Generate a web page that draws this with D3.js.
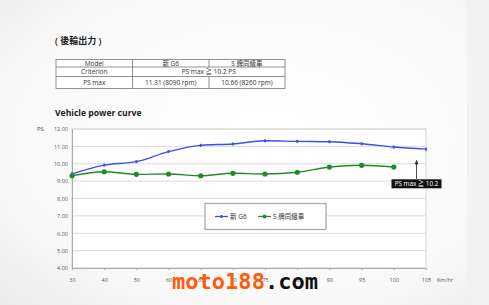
<!DOCTYPE html>
<html>
<head>
<meta charset="utf-8">
<script src="https://cdn.jsdelivr.net/npm/d3@7"></script>
<style>
  html, body { margin: 0; padding: 0; }
  body { width: 489px; height: 305px; overflow: hidden; font-family: "Open Sans", "Noto Sans CJK TC", sans-serif; }
</style>
</head>
<body>
<div id="container"></div>
<script>
// chart data
var speeds = ['30', '40', '50', '60', '65', '70', '75', '80', '90', '95', '100', '105'];
var newG6 = [9.42, 9.92, 10.12, 10.70, 11.06, 11.14, 11.32, 11.29, 11.27, 11.15, 10.96, 10.84];
var rivals = [9.31, 9.54, 9.39, 9.41, 9.31, 9.45, 9.41, 9.51, 9.81, 9.91, 9.81, null];
var yTicks = [4, 5, 6, 7, 8, 9, 10, 11, 12];
var seriesNames = ['新 G6', 'S 牌同級車'];
var tableRows = [
  ['Model', '新 G6', 'S 牌同級車'],
  ['Criterion', 'PS max ≧ 10.2 PS'],
  ['PS max', '11.31  (8090 rpm)', '10.66  (8260 rpm)']
];
var criterion = 10.2;

var width = 489, height = 305;
var blue = '#3a4ff0', green = '#23892a';

var svg = d3.select('#container').append('svg')
  .attr('width', width)
  .attr('height', height);

// background
var defs = svg.append('defs');
var grad = defs.append('radialGradient').attr('id', 'bg')
  .attr('cx', '55%').attr('cy', '45%').attr('r', '75%');
grad.append('stop').attr('offset', '0%').attr('stop-color', '#ffffff');
grad.append('stop').attr('offset', '70%').attr('stop-color', '#f9f9f9');
grad.append('stop').attr('offset', '100%').attr('stop-color', '#ececec');
svg.append('rect').attr('width', width).attr('height', height).attr('fill', 'url(#bg)');
svg.append('rect').attr('x', 467).attr('width', 22).attr('height', height).attr('fill', '#f1f1f1');

// table
svg.append('text').attr('x', 55).attr('y', 44)
  .attr('font-size', 9).attr('font-weight', 600).attr('fill', '#222')
  .text('( 後輪出力 )');

var tx = [56, 132.5, 209, 285], ty = [59.5, 67, 76.5, 88.5];
var table = svg.append('g');
table.append('rect').attr('x', tx[0]).attr('y', ty[0])
  .attr('width', tx[3] - tx[0]).attr('height', ty[3] - ty[0])
  .attr('fill', '#fff').attr('stroke', '#777').attr('stroke-width', 0.8);
[ty[1], ty[2]].forEach(function(y) {
  table.append('line').attr('x1', tx[0]).attr('x2', tx[3]).attr('y1', y).attr('y2', y)
    .attr('stroke', '#777').attr('stroke-width', 0.8);
});
table.append('line').attr('x1', tx[1]).attr('x2', tx[1]).attr('y1', ty[0]).attr('y2', ty[3])
  .attr('stroke', '#777').attr('stroke-width', 0.8);
[[ty[0], ty[1]], [ty[2], ty[3]]].forEach(function(r) {
  table.append('line').attr('x1', tx[2]).attr('x2', tx[2]).attr('y1', r[0]).attr('y2', r[1])
    .attr('stroke', '#777').attr('stroke-width', 0.8);
});
tableRows.forEach(function(row, i) {
  var cy = (ty[i] + ty[i + 1]) / 2 + 2.3;
  row.forEach(function(cell, j) {
    var cx;
    if (row.length === 2 && j === 1) cx = (tx[1] + tx[3]) / 2;
    else cx = (tx[j] + tx[j + 1]) / 2;
    table.append('text').attr('x', cx).attr('y', cy)
      .attr('text-anchor', 'middle').attr('font-size', 6.5).attr('fill', '#333')
      .text(cell);
  });
});

// chart title
svg.append('text').attr('x', 55).attr('y', 116)
  .attr('font-size', 8.6).attr('font-weight', 'bold').attr('fill', '#222')
  .text('Vehicle power curve');
svg.append('text').attr('x', 37).attr('y', 131)
  .attr('font-size', 6).attr('fill', '#444').text('PS');

// scales
var xScale = d3.scalePoint().domain(speeds).range([72, 426]);
var yScale = d3.scaleLinear().domain([4, 12]).range([268, 129]);

// grid
var plot = svg.append('g');
plot.append('rect').attr('x', 72).attr('y', 129).attr('width', 354).attr('height', 139)
  .attr('fill', '#fff').attr('stroke', '#d4d4d4').attr('stroke-width', 1);
plot.selectAll('.grid').data(yTicks).enter().append('line')
  .attr('x1', 72).attr('x2', 426)
  .attr('y1', function(d) { return yScale(d); })
  .attr('y2', function(d) { return yScale(d); })
  .attr('stroke', '#dcdcdc').attr('stroke-width', 1);

// axes
var yAxis = svg.append('g').attr('transform', 'translate(72,0)')
  .call(d3.axisLeft(yScale).tickValues(yTicks).tickSize(0).tickPadding(4)
    .tickFormat(function(d) { return d3.format('.2f')(d); }));
yAxis.select('.domain').attr('stroke', '#aaa');
yAxis.selectAll('text').attr('font-size', 5.5).attr('fill', '#555').attr('font-family', 'Open Sans, sans-serif');

var xAxis = svg.append('g').attr('transform', 'translate(0,268)')
  .call(d3.axisBottom(xScale).tickSize(2).tickPadding(8));
xAxis.select('.domain').attr('stroke', '#aaa');
xAxis.selectAll('line').attr('stroke', '#aaa');
xAxis.selectAll('text').attr('font-size', 5.5).attr('fill', '#555').attr('font-family', 'Open Sans, sans-serif');
svg.append('text').attr('x', 437).attr('y', 282).attr('font-size', 5.5).attr('fill', '#555').text('Km/hr');

// lines
var line = d3.line()
  .defined(function(d) { return d.v != null; })
  .x(function(d) { return xScale(d.k); })
  .y(function(d) { return yScale(d.v); })
  .curve(d3.curveMonotoneX);

var blueData = speeds.map(function(k, i) { return { k: k, v: newG6[i] }; });
var greenData = speeds.map(function(k, i) { return { k: k, v: rivals[i] }; });

svg.append('path').datum(blueData).attr('d', line)
  .attr('fill', 'none').attr('stroke', blue).attr('stroke-width', 1.4);
svg.selectAll('.bm').data(blueData).enter().append('rect')
  .attr('x', function(d) { return xScale(d.k) - 1; })
  .attr('y', function(d) { return yScale(d.v) - 1.5; })
  .attr('width', 2).attr('height', 3).attr('fill', blue);

svg.append('path').datum(greenData).attr('d', line)
  .attr('fill', 'none').attr('stroke', green).attr('stroke-width', 1.4);
svg.selectAll('.gm').data(greenData.filter(function(d) { return d.v != null; })).enter().append('circle')
  .attr('cx', function(d) { return xScale(d.k); })
  .attr('cy', function(d) { return yScale(d.v); })
  .attr('r', 2.6).attr('fill', green);

// legend
var lg = svg.append('g');
lg.append('rect').attr('x', 205).attr('y', 203.5).attr('width', 121).attr('height', 26)
  .attr('fill', '#fff').attr('stroke', '#aaa').attr('stroke-width', 1.3);
[blue, green].forEach(function(c, i) {
  var lx = 215 + i * 43, ly = 216.5;
  lg.append('line').attr('x1', lx).attr('x2', lx + 13).attr('y1', ly).attr('y2', ly)
    .attr('stroke', c).attr('stroke-width', 1.3);
  if (i === 0) lg.append('rect').attr('x', lx + 5.5).attr('y', ly - 1.5).attr('width', 2).attr('height', 3).attr('fill', c);
  else lg.append('circle').attr('cx', lx + 6.5).attr('cy', ly).attr('r', 2).attr('fill', c);
  lg.append('text').attr('x', lx + 15).attr('y', ly + 2.2)
    .attr('font-size', 6.5).attr('fill', '#333').text(seriesNames[i]);
});

// criterion annotation
var ax = 416.5;
svg.append('line').attr('x1', ax).attr('x2', ax).attr('y1', 179).attr('y2', yScale(criterion) + 3)
  .attr('stroke', '#222').attr('stroke-width', 0.8);
svg.append('path')
  .attr('d', 'M' + (ax - 1.8) + ',' + (yScale(criterion) + 4) + 'L' + ax + ',' + (yScale(criterion) - 0.5) + 'L' + (ax + 1.8) + ',' + (yScale(criterion) + 4) + 'Z')
  .attr('fill', '#222');
svg.append('rect').attr('x', 391.5).attr('y', 179.3).attr('width', 50).attr('height', 9)
  .attr('fill', '#111');
svg.append('text').attr('x', 416.5).attr('y', 186.2).attr('text-anchor', 'middle')
  .attr('font-size', 6.3).attr('fill', '#fff').text('PS max ≧ ' + criterion);

// watermark
var wm = svg.append('text').attr('x', 172).attr('y', 289)
  .attr('font-family', 'DejaVu Sans Mono, monospace').attr('font-size', 22).attr('font-weight', 'bold')
  .attr('textLength', 146).attr('lengthAdjust', 'spacingAndGlyphs');
wm.append('tspan').attr('fill', '#ff5a0a').text('moto188');
wm.append('tspan').attr('fill', '#111').text('.com');
</script>
</body>
</html>
